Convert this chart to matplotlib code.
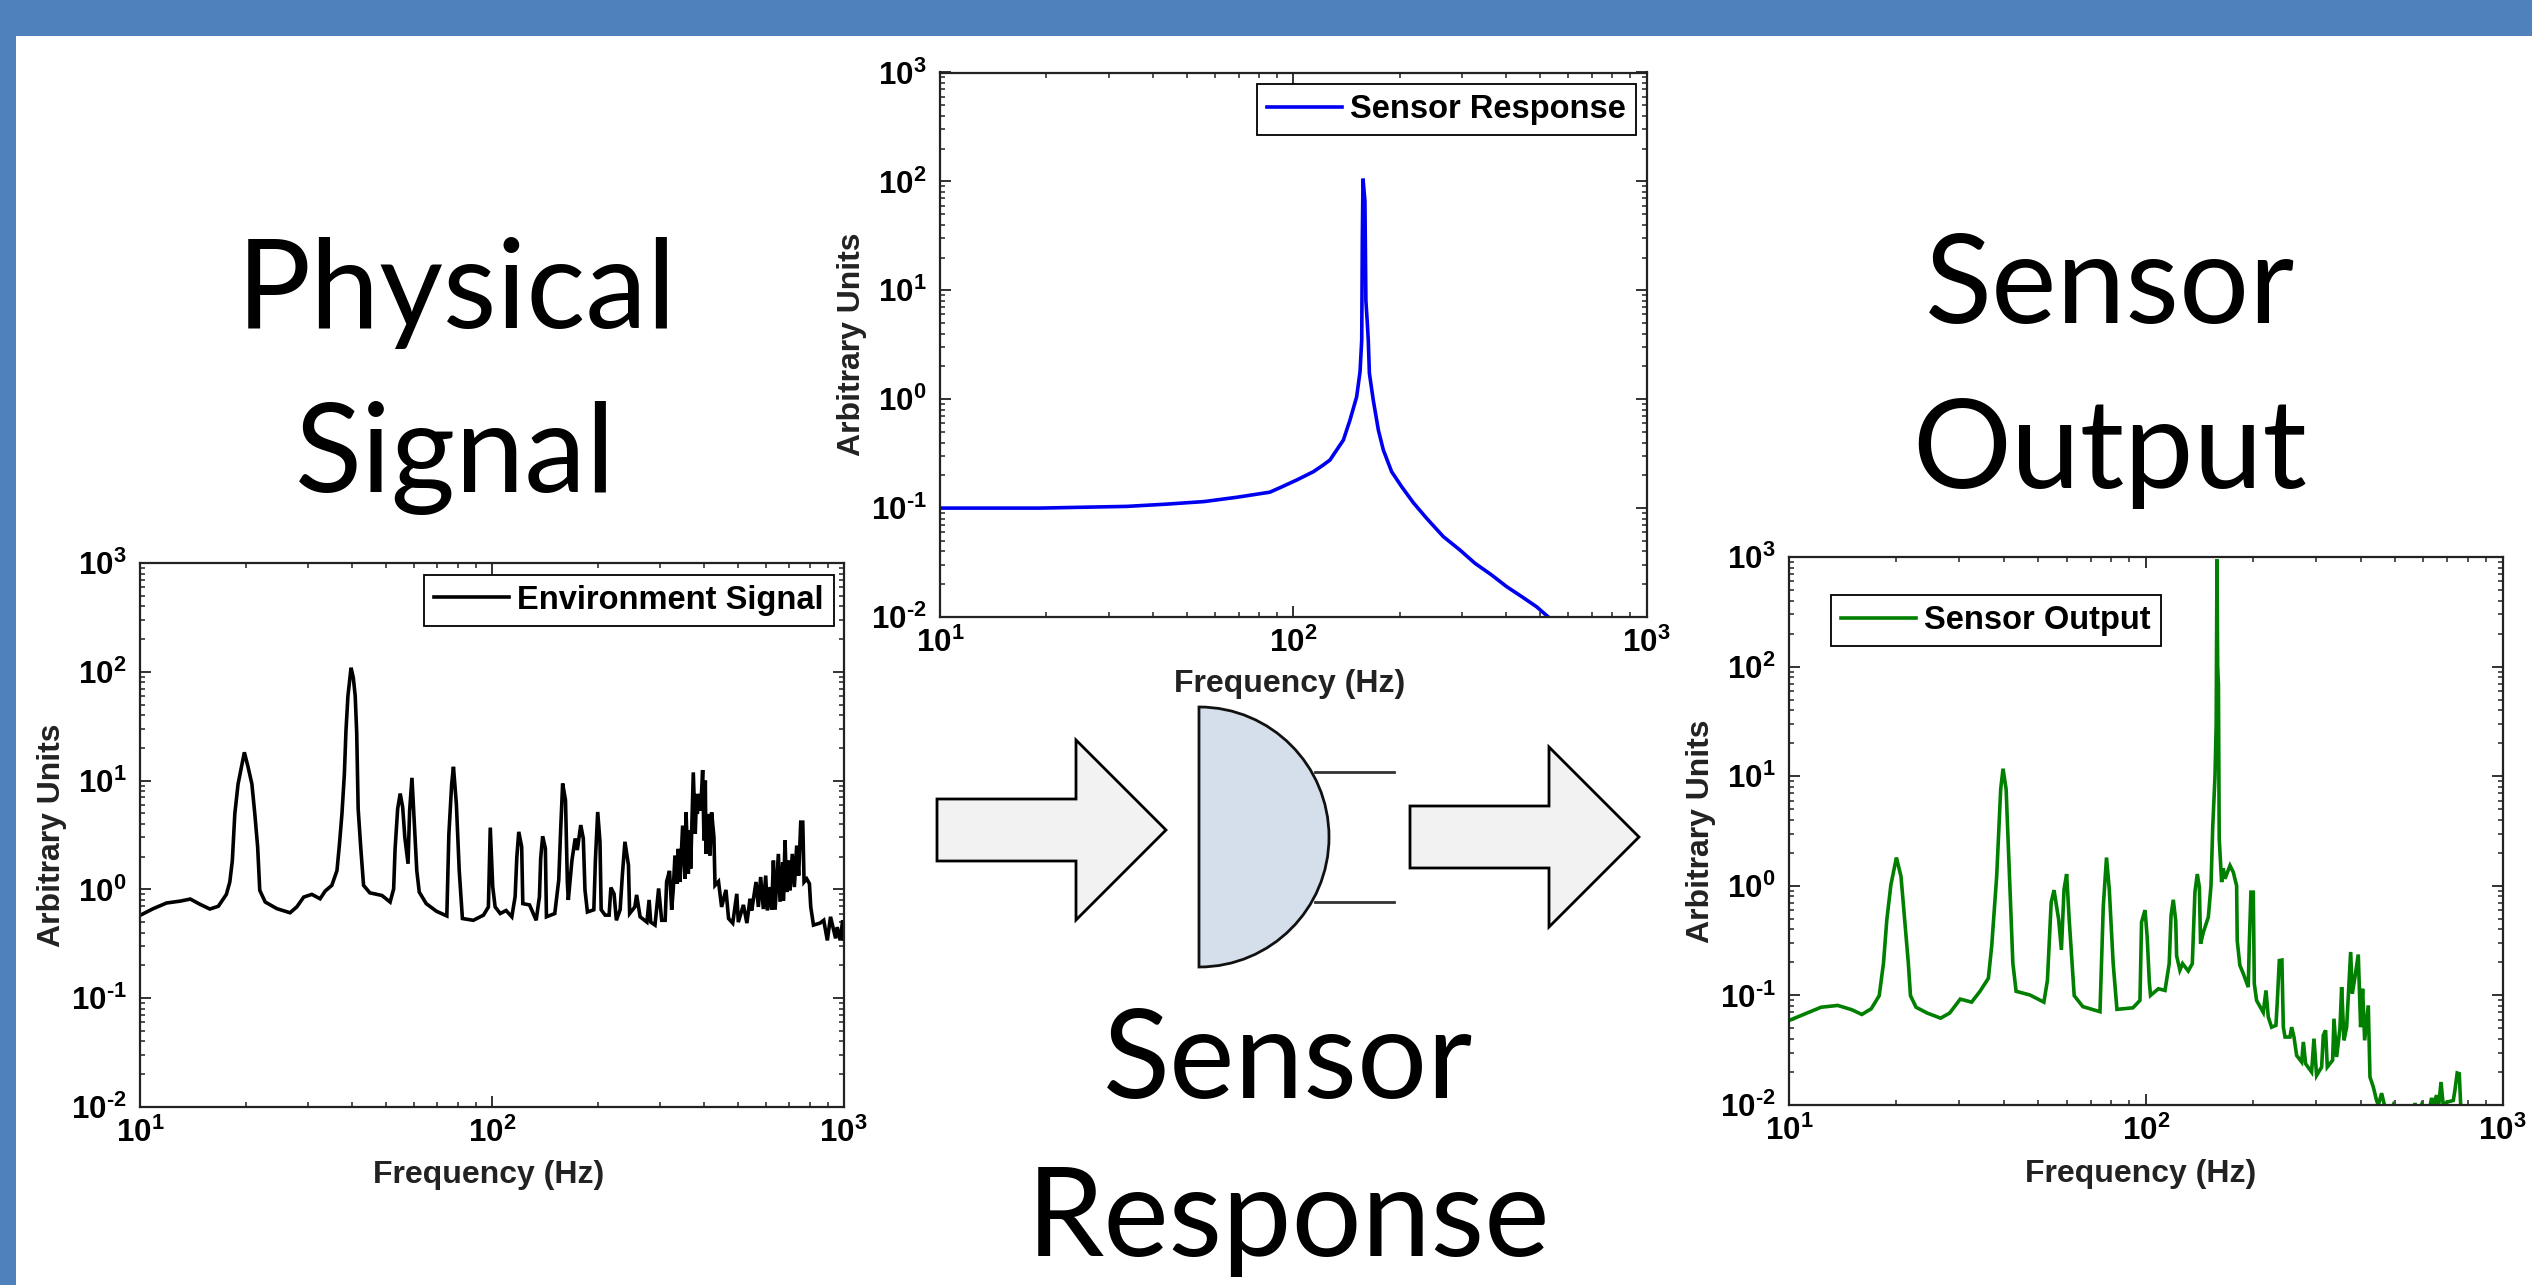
import matplotlib
matplotlib.use("Agg")
import matplotlib.pyplot as plt
from matplotlib.patches import Polygon, Rectangle, PathPatch
from matplotlib.path import Path
from matplotlib.ticker import LogLocator, NullFormatter, FuncFormatter
import math

plt.rcParams["font.family"] = ["Liberation Sans", "DejaVu Sans"]
plt.rcParams["mathtext.fontset"] = "custom"
plt.rcParams["mathtext.rm"] = "Liberation Sans:bold"
plt.rcParams["mathtext.default"] = "rm"

# DATA

env_freq = [10, 10.9, 11.9, 13, 13.9, 14.8, 15.8, 16.7, 17.6, 18, 18.3, 18.6, 19, 19.5, 19.8, 20.3, 20.8,
            21.2, 21.6, 21.9, 22.7, 24.5, 26.7, 27.9, 29.2, 30.8, 32.5, 33.6, 35.1, 36.3, 36.9, 37.5, 38.1,
            38.5, 39, 39.8, 40.4, 40.9, 41.3, 41.7, 42.4, 43.2, 45, 48.7, 51.4, 52.6, 53.1, 54, 54.9, 55.8,
            56.6, 57.8, 58.4, 59.3, 60.2, 61.2, 62.2, 65.1, 69.6, 74.5, 75.5, 76.9, 77.8, 79.3, 80.8, 82.5,
            88.6, 94.7, 97.8, 99, 100.6, 102.2, 105.7, 109.8, 114, 116.5, 117.8, 119.3, 121.6, 122.5, 128,
            133.7, 136.6, 137.7, 139.5, 142, 143, 151, 155, 157, 159, 162, 164, 165, 169, 172.6, 175, 179,
            182, 184, 187, 195, 197, 200, 203, 204.6, 210, 215.5, 218, 222.6, 226, 231.6, 235, 239, 244.6,
            246.5, 255, 258, 264, 276, 280, 283, 291, 298, 304, 311, 314, 320, 324.6,
            328, 331.6, 336.7, 338.9, 342.7, 348.7, 354.2, 356.5, 361.9, 365.8, 367.5, 373.9, 378.7, 382,
            383.8, 388.9, 392.3, 397.5, 401, 404.5, 406.2, 412.3, 416.9, 421.6, 428, 431,
            441, 450, 463, 471, 484, 497, 502, 519, 531,
            542, 548, 563.7, 572.5, 581, 591.5, 600.5, 607, 617.8, 624.5, 631.6, 638.6, 652.5, 659.7, 671.5,
            674.4, 681.6, 689, 696.5, 704, 714.7, 724.4, 735.7, 745.2, 755.4, 765.5, 772, 785.5, 799.5, 806.5,
            821, 857, 878, 899, 918, 949, 959, 978, 994, 1000]
env_vals = [.577, .665, .75, .78, .815, .73, .66, .70, .90, 1.17, 1.84, 4.95, 9.3, 14.2, 18.2, 13.2, 9.3,
            4.95, 2.45, .98, .765, .665, .61, .69, .85, .90, .82, .965, 1.09, 1.49, 2.62, 4.95, 11.5,
            28.7, 60, 109, 88, 60, 27.8, 5.5, 2.45, 1.09, .93, .88, .765, 1.01, 2.36, 5.5, 7.6, 5.7,
            3.0, 1.72, 5.3, 10.6, 4.15, 1.49, .945, .74, .63, .57, 3.2, 9.3, 13.4, 6.1, 1.49, .54,
            .52, .58, .69, 3.7, 1.06, .69, .60, .64, .56, .86, 1.99, 3.38, 2.46, .74, .72,
            .52, .86, 1.92, 3.08, 2.38, .56, .60, 1.22, 3.63, 9.4, 6.6, 1.14, .80, 1.86, 2.94, 2.3, 3.9,
            2.94, .99, .62, .65, 1.86, 5.15, 2.74, .65, .58, .58, 1.04, .91, .52, .65, 1.35, 2.74, 1.67,
            .60, .69, .89, .56, .50, .80, .50, .47, 1.02, .52, .52, 1.18, 1.48, .65,
            1.01, 2.05, 1.13, 2.36, 1.17, 3.86, 1.25, 5.1, 1.39, 3.48, 1.55, 11.9, 3.24, 7.55,
            4.94, 7.55, 5.3, 12.5, 2.82, 10, 2.12, 4.94, 2.05, 5.1, 3.02, 1.09,
            1.18, .69, .99, .54, .49, .91, .50, .72, .49,
            .82, .64, 1.17, .69, 1.3, .66, 1.34, .64, 1.05, .65, 1.84, .65, 2.12, .77, 1.78,
            .79, 2.82, .945, 1.84, .98, 2.12, 1.05, 2.53, 1.34, 4.15, 4.15, 1.17, 1.25, 1.13, .69,
            .47, .49, .52, .34, .56, .355, .45, .34, .52, .35]

resp_freq = [10, 19.1, 33.8, 43.5, 55.9, 69.3, 85.8, 91.7, 102.2, 114, 121.6, 127, 138.6, 144.7, 151.1, 154.5, 156.2,
             156.8, 157.5, 159.5, 160.5, 162, 163, 164.2, 168.4, 174.1, 179.8, 189.8, 202.7, 218.7, 238.5,
             265.9, 296.3, 326.9, 364.3, 401.6, 443, 488.5, 527, 540]
resp_vals = [.1, .1, .1037, .1086, .1148, .1258, .14, .154, .181, .216, .249, .2765, .422, .644, 1.05, 1.79, 3.5,
             30, 106, 66, 8, 5, 3.5, 1.73, .98, .52, .342, .216, .157, .112, .0805,
             .0547, .0412, .0311, .0243, .019, .0154, .0124, .01, .0094]

out_freq = [10, 11.46, 12.3, 13.7, 15, 16, 17, 17.9, 18.4, 18.8, 19.3, 20, 20.6, 21.1, 21.6, 21.9, 22.7,
            24.4, 26.6, 28.2, 30.2, 32.5, 34.3, 36.2, 37, 38.2, 39.2, 39.8, 40.6, 41.5, 42.4, 43.3, 47.3,
            51.8, 53, 54.3, 55.3, 57, 58, 59, 60, 61, 63, 66.6, 74.4, 76, 77.6, 79, 81, 83, 92, 96.3,
            97.3, 99.5, 100.9, 102.3, 103.1, 108.5, 113.2, 116.3, 117.7, 119.4, 121.3, 122, 124.6, 126.8,
            131.5, 135, 135.9, 137.3, 139.4, 141.3, 142.4, 145, 149.7, 152.3, 154, 156.3, 157.5, 158.3, 159,
            159.8, 160.6, 163.1, 164.9, 166.7, 172.2, 175.9, 179.7, 180.4, 183.5, 187.6, 193.7, 195, 197.1,
            200.1, 201.4, 204.4, 213.4, 217.2, 220.4, 225.2, 231.6, 233.6, 236.7, 240.7, 242.9, 245.6, 253.5,
            256.3, 260.2, 264.7, 273.4, 276.4, 280.5, 291.5, 296, 301.1, 311, 314.4, 319.1, 322.6, 333.9,
            336.8, 342.6, 350, 353.9, 359.3, 365.5, 371.8, 375.1, 379.1, 385.7, 394, 400, 405.2, 410.5, 420.3,
            424.9, 434.1, 443.4, 448.4, 458.1, 468.1, 480, 493.9, 510, 560, 568, 580, 593, 610, 626, 632.7,
            639, 653, 660, 672, 682, 697, 727.5, 735, 746, 756, 763, 780, 1000]
out_vals = [.059, .071, .078, .081, .074, .067, .0755, .0995, .197, .49, 1.02, 1.81, 1.22, .49, .197, .0995, .078,
            .069, .062, .069, .0925, .0868, .109, .143, .284, 1.22, 7.6, 11.7, 7.6, 1.22, .197, .109, .101,
            .0868, .137, .707, .913, .49, .26, .93, 1.28, .49, .0995, .079, .071, .645, 1.81, .93, .197, .0746, .077, .09,
            .466, .6, .34, .132, .1, .115, .111, .195, .536, .745, .48, .23, .17, .195,
            .167, .195, .35, .875, 1.28, .97, .296, .378, .518, 1.0, 3.4, 10, 30, 950, 100,
            68, 2.7, 1.08, 1.44, 1.16, 1.53, 1.33, 1.0, .316, .188, .158, .119, .296, .875,
            .875, .128, .09, .07, .111, .0635, .0513, .0533, .087, .208, .21, .0513, .0417, .0417,
            .0513, .0417, .0283, .0247, .0376, .0238, .02, .0403, .0186, .0222, .0432, .048, .0222, .0256,
            .0613, .0274, .0497, .119, .0389, .0513, .142, .249, .104, .147, .236, .0513, .115, .0389, .0811,
            .018, .0146, .011, .01, .0128, .0095, .008, .01, .008, .008, .0104, .008, .01, .008, .0098, .0116,
            .0098, .0123, .009, .0162, .0098, .0106, .011, .0136, .0196, .0193, .01, .008, .008]

LIMS_X = (10, 1000)
LIMS_Y = (1e-2, 1e3)

W, H = 2532, 1285
fig = plt.figure(figsize=(W / 100, H / 100), dpi=100, facecolor="white")

# BACKGROUND LAYER IN PIXELS (bars, sketch, big words)

bg = fig.add_axes([0, 0, 1, 1], zorder=0)
bg.set_xlim(0, W)
bg.set_ylim(H, 0)
bg.axis("off")

BAR = "#4F81BD"
bg.add_patch(Rectangle((0, 0), W, 36, color=BAR, lw=0))
bg.add_patch(Rectangle((0, 0), 16, H, color=BAR, lw=0))

for x0, cy in [(937, 830), (1410, 837)]:
    pts = [(x0, cy - 31), (x0 + 139, cy - 31), (x0 + 139, cy - 90), (x0 + 229, cy),
           (x0 + 139, cy + 90), (x0 + 139, cy + 31), (x0, cy + 31)]
    bg.add_patch(Polygon(pts, closed=True, fc="#F2F2F2", ec="black", lw=2))

# half ellipse of the sensor
k = 0.5523
x0, cy, rx, ry = 1199, 837, 130, 130
verts = [(x0, cy - ry), (x0 + k * rx, cy - ry), (x0 + rx, cy - k * ry), (x0 + rx, cy),
         (x0 + rx, cy + k * ry), (x0 + k * rx, cy + ry), (x0, cy + ry), (x0, cy - ry)]
codes = [Path.MOVETO] + [Path.CURVE4] * 6 + [Path.CLOSEPOLY]
bg.add_patch(PathPatch(Path(verts, codes), fc="#D5DFEC", ec="#111111", lw=2, zorder=3))
bg.plot([1315, 1394], [772, 772], color="#333333", lw=2, zorder=2)
bg.plot([1315, 1394], [902, 902], color="#333333", lw=2, zorder=2)

BIG = 89
for word, x, y in [("Physical", 457, 328), ("Signal", 455, 492), ("Sensor", 2110, 323), ("Output", 2110, 488),
                   ("Sensor", 1288, 1098), ("Response", 1288, 1256)]:
    bg.text(x, y, word, fontsize=BIG, family="Lato", ha="center", va="baseline", color="black")


def decade_label(val, pos):
    exp = int(round(math.log10(val)))
    if exp < 0:
        return r"$10^{\text{-}%d}$" % abs(exp)
    return r"$10^{%d}$" % exp


# THE THREE PLOTS

def spectrum(px, freq, vals, color, label, legend_loc, anchor, xlab, ylab):
    x0, x1, y0, y1 = px
    ax = fig.add_axes([x0 / W, 1 - y1 / H, (x1 - x0) / W, (y1 - y0) / H], zorder=2)
    ax.plot(freq, vals, color=color, lw=2.6, label=label, solid_joinstyle="miter")
    ax.set_xscale("log")
    ax.set_yscale("log")
    ax.set_xlim(*LIMS_X)
    ax.set_ylim(*LIMS_Y)
    for axis in (ax.xaxis, ax.yaxis):
        axis.set_major_locator(LogLocator(base=10, numticks=10))
        axis.set_major_formatter(FuncFormatter(decade_label))
        axis.set_minor_locator(LogLocator(base=10, subs=range(2, 10), numticks=10))
        axis.set_minor_formatter(NullFormatter())
    ax.tick_params(which="major", direction="in", top=True, right=True, length=8, width=1.3,
                   color="#222222", labelsize=22.5, pad=8)
    ax.tick_params(axis="y", which="major", pad=9.5)
    ax.tick_params(which="minor", direction="in", top=True, right=True, length=3.6, width=1.1,
                   color="#222222")
    for s in ax.spines.values():
        s.set_linewidth(1.6)
        s.set_color("#222222")
    ax.set_xlabel("Frequency (Hz)", fontsize=23, fontweight="bold", va="center", color="#222222")
    ax.set_ylabel("Arbitrary Units", fontsize=23, fontweight="bold", va="center", color="#222222")
    ax.xaxis.set_label_coords(*xlab)
    ax.yaxis.set_label_coords(*ylab)
    ax.legend(loc=legend_loc, bbox_to_anchor=anchor, borderaxespad=0, fancybox=False, framealpha=1,
              edgecolor="black", prop={"family": "Liberation Sans", "weight": "bold", "size": 23.5},
              handlelength=2.3, handletextpad=0.25, borderpad=0.3)
    ax.get_legend().get_frame().set_linewidth(1.3)
    return ax


spectrum((140, 843.6, 563, 1107), env_freq, env_vals, "black", "Environment Signal",
         "upper right", (0.986, 0.978), (0.495, -0.125), (-0.125, 0.5))
spectrum((940, 1646.6, 72.5, 617), resp_freq, resp_vals, "#0000F0", "Sensor Response",
         "upper right", (0.985, 0.978), (0.495, -0.123), (-0.125, 0.5))
spectrum((1789, 2502.6, 557, 1105), out_freq, out_vals, "#007F00", "Sensor Output",
         "upper left", (0.059, 0.93), (0.493, -0.126), (-0.123, 0.5))

fig.savefig("out.png", dpi=100)
plt.close(fig)
